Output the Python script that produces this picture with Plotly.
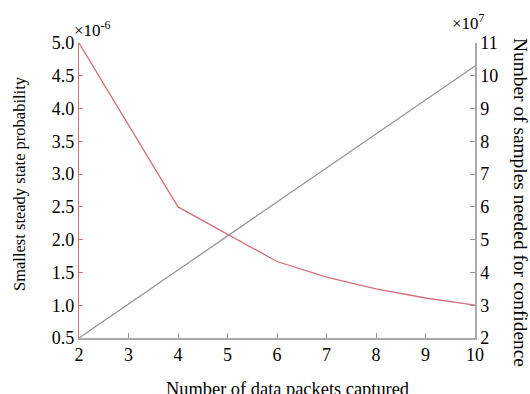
import plotly.graph_objects as go

packets_red = [2, 4, 6, 7, 8, 9, 10]
prob_e6 = [5.0, 2.5, 1.667, 1.43, 1.25, 1.11, 1.0]
packets_gray = [2, 4, 6, 8, 10]
samples_e7 = [2.0, 4.08, 6.15, 8.23, 10.3]

xticks = [2, 3, 4, 5, 6, 7, 8, 9, 10]
yticks_left = [0.5, 1.0, 1.5, 2.0, 2.5, 3.0, 3.5, 4.0, 4.5, 5.0]
yticks_right = [2, 3, 4, 5, 6, 7, 8, 9, 10, 11]

RED = "rgb(212,112,118)"
GRAY = "rgb(150,150,150)"
FONT = "Liberation Serif"
FS = 18

L, R, T, B = 79, 55, 43, 56
PW, PH = 530 - L - R, 394 - T - B

def px(x):
    return (x - L) / PW

def py(y):
    return (394 - B - y) / PH

fig = go.Figure()
fig.add_trace(go.Scatter(x=packets_red, y=prob_e6, mode="lines",
                         line=dict(color=RED, width=1.3), yaxis="y"))
fig.add_trace(go.Scatter(x=packets_gray, y=samples_e7, mode="lines",
                         line=dict(color=GRAY, width=1.3), yaxis="y2"))

fig.update_layout(
    width=530, height=394,
    margin=dict(l=L, r=R, t=T, b=B),
    paper_bgcolor="white", plot_bgcolor="white",
    showlegend=False,
    font=dict(family=FONT, size=FS, color="black"),
    xaxis=dict(range=[2, 10], tickvals=xticks, ticks="inside", ticklen=5,
               tickcolor=GRAY, showline=True, linecolor="rgb(170,170,170)", linewidth=1.5,
               showgrid=False, zeroline=False, tickfont=dict(family=FONT, size=FS)),
    yaxis=dict(range=[0.5, 5.0], tickvals=yticks_left,
               ticktext=[f"{v:.1f}" for v in yticks_left],
               ticks="inside", ticklen=4, tickcolor=RED,
               showline=True, linecolor=RED, linewidth=1.3,
               showgrid=False, zeroline=False, tickfont=dict(family=FONT, size=FS)),
    yaxis2=dict(range=[2, 11], tickvals=yticks_right, overlaying="y", side="right",
                ticks="inside", ticklen=5, tickcolor=GRAY,
                showline=True, linecolor="rgb(170,170,170)", linewidth=1.5,
                showgrid=False, zeroline=False, tickfont=dict(family=FONT, size=FS)),
    annotations=[
        dict(text="Number of data packets captured", xref="paper", yref="paper",
             x=px(287), y=py(377), xanchor="center", yanchor="top", showarrow=False,
             font=dict(family=FONT, size=18.4)),
        dict(text="Smallest steady state probability", xref="paper", yref="paper",
             x=px(19), y=py(184), xanchor="center", yanchor="middle", showarrow=False,
             textangle=-90, font=dict(family=FONT, size=16.5)),
        dict(text="Number of samples needed for confidence", xref="paper", yref="paper",
             x=px(520), y=py(202), xanchor="center", yanchor="middle", showarrow=False,
             textangle=90, font=dict(family=FONT, size=19.4)),
        dict(text="×10<sup>-6</sup>", xref="paper", yref="paper",
             x=px(72), y=py(42), xanchor="left", yanchor="bottom", showarrow=False,
             font=dict(family=FONT, size=17)),
        dict(text="×10<sup>7</sup>", xref="paper", yref="paper",
             x=px(450), y=py(35), xanchor="left", yanchor="bottom", showarrow=False,
             font=dict(family=FONT, size=17)),
    ],
)

fig.write_html("out.html", config={"displayModeBar": False},
               post_script="document.body.style.margin='0';")
